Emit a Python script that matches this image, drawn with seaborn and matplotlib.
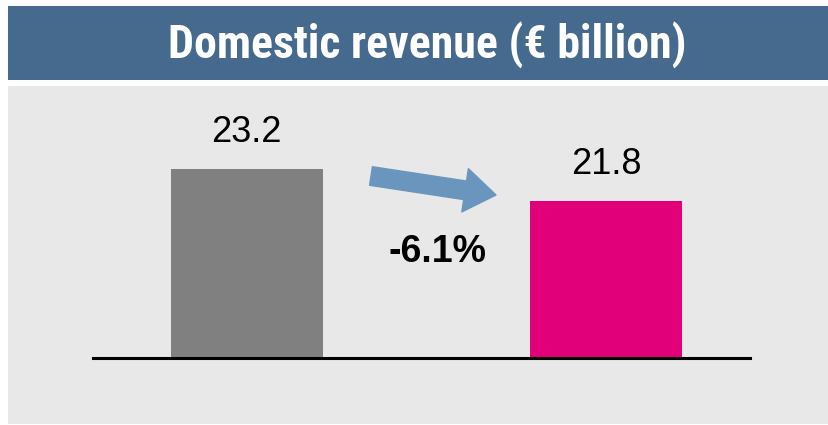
import matplotlib
matplotlib.use("Agg")
import matplotlib.pyplot as plt
import matplotlib.font_manager as fm
from matplotlib.patches import Rectangle
import seaborn as sns
import pandas as pd

# Data
periods = ["Prior year", "Current year"]
revenue = [23.2, 21.8]
bar_colors = ["#808080", "#E2007A"]
change_label = "-6.1%"
title = "Domestic revenue (€ billion)"

sns.set_theme(style="white")
plt.rcParams['font.family'] = ['Liberation Sans', 'DejaVu Sans']

names = {f.name for f in fm.fontManager.ttflist}
narrow = [n for n in ['Liberation Sans Narrow', 'Roboto Condensed', 'Open Sans Condensed'] if n in names]
title_font = narrow[:1] + ['Liberation Sans', 'DejaVu Sans']

W, H = 829, 425
fig = plt.figure(figsize=(W / 100, H / 100), dpi=100)
fig.patch.set_facecolor("white")

# header banner and grey panel
fig.patches.append(Rectangle((8 / W, (H - 80) / H), 1, 74 / H, transform=fig.transFigure,
                             facecolor="#456A8D", edgecolor="none", zorder=-2))
fig.patches.append(Rectangle((8 / W, 1 / H), 1, (H - 87) / H, transform=fig.transFigure,
                             facecolor="#E8E8E8", edgecolor="none", zorder=-2))
fig.text(427 / W, (H - 45) / H, title, ha="center", va="center", color="white",
         fontsize=28 if not narrow else 33, fontweight="bold", family=title_font)

ax = fig.add_axes([93 / W, (H - 358) / H, (750 - 93) / W, (358 - 100) / H])
ax.set_facecolor("none")

df = pd.DataFrame({"period": periods, "revenue": revenue})
sns.barplot(data=df, x="period", y="revenue", hue="period", palette=bar_colors,
            width=0.423, legend=False, ax=ax, saturation=1, linewidth=0)

ax.set_xlim(-0.428, 1.4)
ax.set_ylim(14.93, 26.22)
for s in ["top", "left", "right"]:
    ax.spines[s].set_visible(False)
ax.spines["bottom"].set_color("black")
ax.spines["bottom"].set_linewidth(2.2)
ax.set_xticks([])
ax.set_yticks([])
ax.set_xlabel("")
ax.set_ylabel("")

for i, v in enumerate(revenue):
    ax.annotate(f"{v:.1f}", (i, v), xytext=(0, 14), textcoords="offset points",
                ha="center", va="bottom", fontsize=26, color="black")

# change arrow
ax.annotate("", xy=(496, H - 195), xycoords="figure pixels",
            xytext=(371, H - 176), textcoords="figure pixels",
            arrowprops=dict(arrowstyle="simple,head_length=0.75,head_width=1.05,tail_width=0.45",
                            mutation_scale=30, color="#6A96BD", shrinkA=0, shrinkB=0))
fig.text(438 / W, (H - 262) / H, change_label, ha="center", va="baseline",
         fontsize=27, fontweight="bold", color="black")

fig.savefig("out.png", dpi=100)
